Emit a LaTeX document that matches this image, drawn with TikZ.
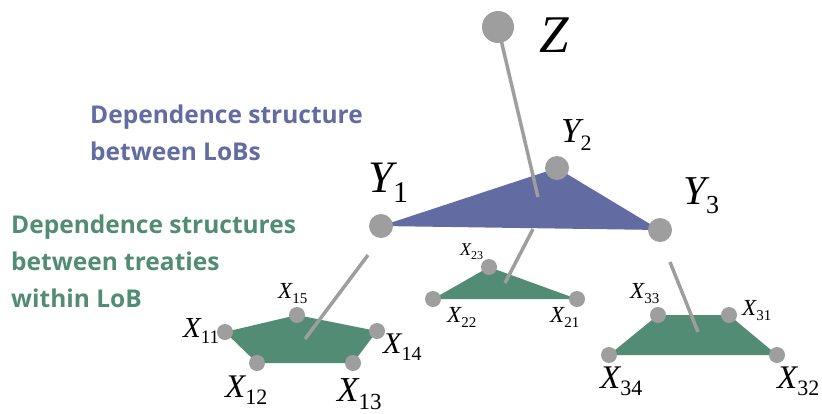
\documentclass[tikz,border=0pt]{standalone}
\usepackage{fontspec}
\setsansfont{Open Sans}
\newfontfamily\tms{Liberation Serif}
\usepackage{xcolor}
\definecolor{lobblue}{HTML}{626CA3}
\definecolor{treatygreen}{HTML}{528C74}
\definecolor{dotgray}{HTML}{9E9E9E}
\usetikzlibrary{positioning}

% italic letter with a lowered upright index
\newcommand\varlbl[4]{\fontsize{#1}{#1}\selectfont\tms\itshape #3%
  \raisebox{-0.24em}{\fontsize{#2}{#2}\selectfont\upshape #4}}

\begin{document}
\begin{tikzpicture}[x=1pt,y=-1pt,
    dot/.style={circle, fill=dotgray, inner sep=0pt, minimum size=16pt},
    bigdot/.style={dot, minimum size=24pt},
    link/.style={draw=dotgray, line width=3.5pt},
    lbl/.style={anchor=base west, inner sep=0pt},
    caption/.style={anchor=base west, inner sep=0pt, align=left,
      font=\sffamily\bfseries\fontsize{24.5}{37}\selectfont}]
  \useasboundingbox (0,0) rectangle (822,413);

  % corners of the shapes
  \coordinate (y1) at (381,226);
  \coordinate (y2) at (557,168);
  \coordinate (y3) at (660,230);
  \coordinate (x11) at (225,332);
  \coordinate (x15) at (297,315);
  \coordinate (x14) at (377,331);
  \coordinate (x13) at (353,363);
  \coordinate (x12) at (257,363);
  \coordinate (x23) at (489,267);
  \coordinate (x22) at (433,299);
  \coordinate (x21) at (577,299);
  \coordinate (x33) at (658,315);
  \coordinate (x31) at (729,315);
  \coordinate (x32) at (777,355);
  \coordinate (x34) at (609,355);

  \fill[lobblue] (y1) -- (y2) -- (y3) -- cycle;
  \fill[treatygreen] (x11) -- (x15) -- (x14) -- (x13) -- (x12) -- cycle;
  \fill[treatygreen] (x22) -- (x23) -- (x21) -- cycle;
  \fill[treatygreen] (x34) -- (x33) -- (x31) -- (x32) -- cycle;

  % links between levels
  \coordinate (zfoot) at (538,197);
  \coordinate (y1top) at (368,255);
  \coordinate (pentfoot) at (305,339);
  \coordinate (y2top) at (533,229);
  \coordinate (trifoot) at (505,283);
  \coordinate (y3top) at (670,262);
  \coordinate (trapfoot) at (698,332);
  \node[bigdot, minimum size=32pt, fill=none] (Z) at (498,27) {};
  \draw[link] (Z.center) -- (zfoot);
  \draw[link] (y1top) -- (pentfoot);
  \draw[link] (y2top) -- (trifoot);
  \draw[link] (y3top) -- (trapfoot);

  \node[bigdot, minimum size=32pt] at (Z) {};
  \node[bigdot] (Y1) at (y1) {};
  \node[bigdot] (Y2) at (y2) {};
  \node[bigdot] (Y3) at (y3) {};
  \foreach \v in {x11,x12,x13,x14,x15,x21,x22,x23,x31,x32,x33,x34}
    \node[dot] (\v dot) at (\v) {};

  % labels
  \node[lbl] at (539,52) {\fontsize{53}{53}\selectfont\tms\itshape Z};
  \node[lbl] at (368,192) {\varlbl{45}{30}{Y}{1}};
  \node[lbl] at (561,142) {\varlbl{35}{22}{Y}{2}};
  \node[lbl] at (683,204) {\varlbl{41}{26}{Y}{3}};
  \node[lbl] at (183,337) {\varlbl{29}{19}{X}{11}};
  \node[lbl] at (278,298) {\varlbl{23}{15}{X}{15}};
  \node[lbl] at (383,353) {\varlbl{30}{20}{X}{14}};
  \node[lbl] at (225,397) {\varlbl{33}{22}{X}{12}};
  \node[lbl] at (337,401) {\varlbl{35}{23}{X}{13}};
  \node[lbl] at (460,255) {\varlbl{18}{12}{X}{23}};
  \node[lbl] at (447,322) {\varlbl{23}{15}{X}{22}};
  \node[lbl] at (550,322) {\varlbl{23}{15}{X}{21}};
  \node[lbl] at (630,298) {\varlbl{23}{15}{X}{33}};
  \node[lbl] at (742,315) {\varlbl{23}{15}{X}{31}};
  \node[lbl] at (600,388) {\varlbl{33}{22}{X}{34}};
  \node[lbl] at (777,388) {\varlbl{33}{22}{X}{32}};

  \node[caption, text=lobblue] (lobtext) at (90,160)
    {Dependence structure\\between LoBs};
  \node[caption, text=treatygreen] (treatytext) at (11,307)
    {Dependence structures\\between treaties\\within LoB};
\end{tikzpicture}
\end{document}
